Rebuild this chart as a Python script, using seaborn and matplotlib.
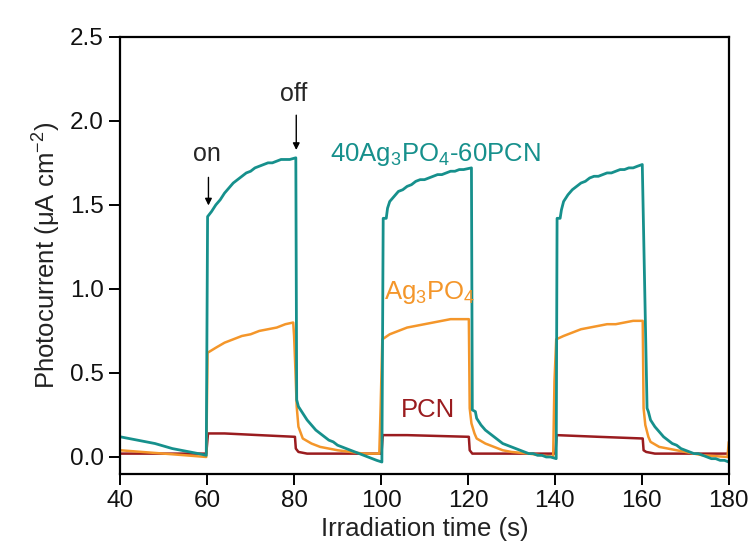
import matplotlib
matplotlib.use("Agg")
import matplotlib.pyplot as plt
import seaborn as sns
import pandas as pd

# 40Ag3PO4-60PCN
t_comp = [40, 42, 44, 46, 48, 50, 52, 54, 56, 58, 59.8,
          60.1, 61, 62, 63, 64, 65, 66, 67, 68, 69, 70, 71, 72, 73, 74, 75, 76, 77, 78, 79, 80.4,
          80.6, 81, 82, 83, 84, 85, 86, 87, 88, 89, 90, 91, 92, 93, 94, 95, 96, 97, 98, 99, 100.2,
          100.5, 101.2, 101.5, 102, 103, 104, 105, 106, 107, 108, 109, 110, 111, 112, 113, 114, 115, 116, 117, 118, 119, 120.8,
          121, 121.7, 122, 123, 124, 125, 126, 127, 128, 129, 130, 131, 132, 133, 134, 135, 136, 137, 138, 139, 140.3,
          140.5, 141.2, 141.5, 142, 143, 144, 145, 146, 147, 148, 149, 150, 151, 152, 153, 154, 155, 156, 157, 158, 159, 160.1,
          161.2, 161.5, 162, 163, 164, 165, 166, 167, 168, 169, 170, 171, 172, 173, 174, 175, 176, 177, 178, 179, 180]
i_comp = [0.12, 0.11, 0.10, 0.09, 0.08, 0.065, 0.05, 0.04, 0.03, 0.02, 0.01,
          1.43, 1.46, 1.50, 1.53, 1.57, 1.60, 1.63, 1.65, 1.67, 1.69, 1.70, 1.72, 1.73, 1.74, 1.75, 1.75, 1.76, 1.77, 1.77, 1.77, 1.78,
          0.34, 0.30, 0.26, 0.22, 0.19, 0.16, 0.14, 0.12, 0.10, 0.09, 0.07, 0.06, 0.05, 0.04, 0.03, 0.02, 0.01, 0.00, -0.01, -0.02, -0.03,
          1.42, 1.42, 1.48, 1.52, 1.55, 1.58, 1.59, 1.61, 1.62, 1.64, 1.65, 1.65, 1.66, 1.67, 1.68, 1.68, 1.69, 1.70, 1.70, 1.71, 1.71, 1.72,
          0.28, 0.27, 0.23, 0.19, 0.16, 0.14, 0.12, 0.10, 0.08, 0.07, 0.06, 0.05, 0.04, 0.03, 0.02, 0.02, 0.01, 0.01, 0.00, 0.00, -0.01,
          1.42, 1.42, 1.47, 1.52, 1.56, 1.59, 1.61, 1.63, 1.64, 1.66, 1.67, 1.67, 1.68, 1.69, 1.69, 1.70, 1.71, 1.71, 1.72, 1.72, 1.73, 1.74,
          0.29, 0.27, 0.22, 0.18, 0.15, 0.12, 0.10, 0.08, 0.07, 0.05, 0.04, 0.03, 0.02, 0.02, 0.01, 0.00, -0.01, -0.01, -0.02, -0.02, -0.03]

# Ag3PO4
t_ag = [40, 45, 50, 55, 59.8,
        60.1, 62, 64, 66, 68, 70, 72, 74, 76, 78, 79.8, 80.0,
        80.3, 80.6, 81, 82, 84, 86, 88, 90, 93, 96, 99.6, 99.9,
        100.3, 102, 104, 106, 108, 110, 112, 114, 116, 118, 120.2,
        120.4, 120.8, 121.5, 122, 124, 126, 128, 130, 134, 139.6, 139.9,
        140.3, 142, 144, 146, 148, 150, 152, 154, 156, 158, 160.2,
        160.4, 160.8, 161.5, 162, 164, 166, 168, 170, 174, 179.7, 180]
i_ag = [0.04, 0.03, 0.02, 0.01, 0.00,
        0.62, 0.65, 0.68, 0.70, 0.72, 0.73, 0.75, 0.76, 0.77, 0.79, 0.80, 0.72,
        0.52, 0.30, 0.18, 0.11, 0.08, 0.06, 0.05, 0.04, 0.03, 0.02, 0.02, 0.29,
        0.70, 0.73, 0.75, 0.77, 0.78, 0.79, 0.80, 0.81, 0.82, 0.82, 0.82,
        0.29, 0.20, 0.14, 0.11, 0.08, 0.06, 0.04, 0.03, 0.02, 0.00, 0.45,
        0.70, 0.72, 0.74, 0.76, 0.77, 0.78, 0.79, 0.79, 0.80, 0.81, 0.81,
        0.29, 0.19, 0.12, 0.09, 0.06, 0.05, 0.04, 0.03, 0.01, 0.00, 0.09]

# PCN
t_pcn = [40, 59.8, 60.2, 64, 72, 80.2, 80.4, 81, 83, 100.1,
         100.4, 106, 120.2, 120.4, 121, 140.1,
         140.4, 150, 160.2, 160.4, 161, 163, 180]
i_pcn = [0.02, 0.02, 0.14, 0.14, 0.13, 0.12, 0.05, 0.03, 0.02, 0.02,
         0.13, 0.13, 0.12, 0.04, 0.02, 0.02,
         0.13, 0.12, 0.11, 0.04, 0.03, 0.02, 0.02]

c_comp = "#16908c"
c_ag = "#f4962a"
c_pcn = "#9a1c1f"

sns.set_style("ticks")
plt.rcParams["font.family"] = ["Liberation Sans", "DejaVu Sans"]
plt.rcParams["mathtext.default"] = "regular"

fig = plt.figure(figsize=(7.56, 5.49), dpi=100)
ax = fig.add_axes([0.159, 0.137, 0.805, 0.796])

sns.lineplot(x=t_pcn, y=i_pcn, color=c_pcn, lw=1.8, ax=ax)
sns.lineplot(x=t_ag, y=i_ag, color=c_ag, lw=1.8, ax=ax)
sns.lineplot(x=t_comp, y=i_comp, color=c_comp, lw=2.0, ax=ax)

ax.set_xlim(40, 180)
ax.set_ylim(-0.1, 2.5)
ax.set_xticks([40, 60, 80, 100, 120, 140, 160, 180])
ax.set_yticks([0.0, 0.5, 1.0, 1.5, 2.0, 2.5])
ax.yaxis.set_major_formatter(matplotlib.ticker.FormatStrFormatter("%.1f"))
ax.tick_params(labelsize=17.5, direction="out", length=8, width=1.4, pad=4,
               top=False, right=False, colors="black", labelcolor="#111111")
for s in ax.spines.values():
    s.set_visible(True)
    s.set_linewidth(1.6)
    s.set_color("black")

ax.set_xlabel("Irradiation time (s)", fontsize=18.5, labelpad=3, color="#222222")
ax.set_ylabel("Photocurrent (\u03bcA cm$^{-2}$)", fontsize=18.5, labelpad=5, color="#222222")

ax.text(60, 1.80, "on", fontsize=18, ha="center", va="center")
ax.annotate("", xy=(60.3, 1.48), xytext=(60.3, 1.68),
            arrowprops=dict(arrowstyle="-|>", color="black", lw=1, mutation_scale=10))
ax.text(80, 2.16, "off", fontsize=18, ha="center", va="center")
ax.annotate("", xy=(80.5, 1.81), xytext=(80.5, 2.05),
            arrowprops=dict(arrowstyle="-|>", color="black", lw=1, mutation_scale=10))

ax.text(88.3, 1.80, "40Ag$_3$PO$_4$-60PCN", fontsize=18.5, color=c_comp, va="center")
ax.text(100.6, 0.98, "Ag$_3$PO$_4$", fontsize=18.5, color=c_ag, va="center")
ax.text(104.6, 0.28, "PCN", fontsize=18.5, color=c_pcn, va="center")

fig.savefig("out.png", dpi=100)
